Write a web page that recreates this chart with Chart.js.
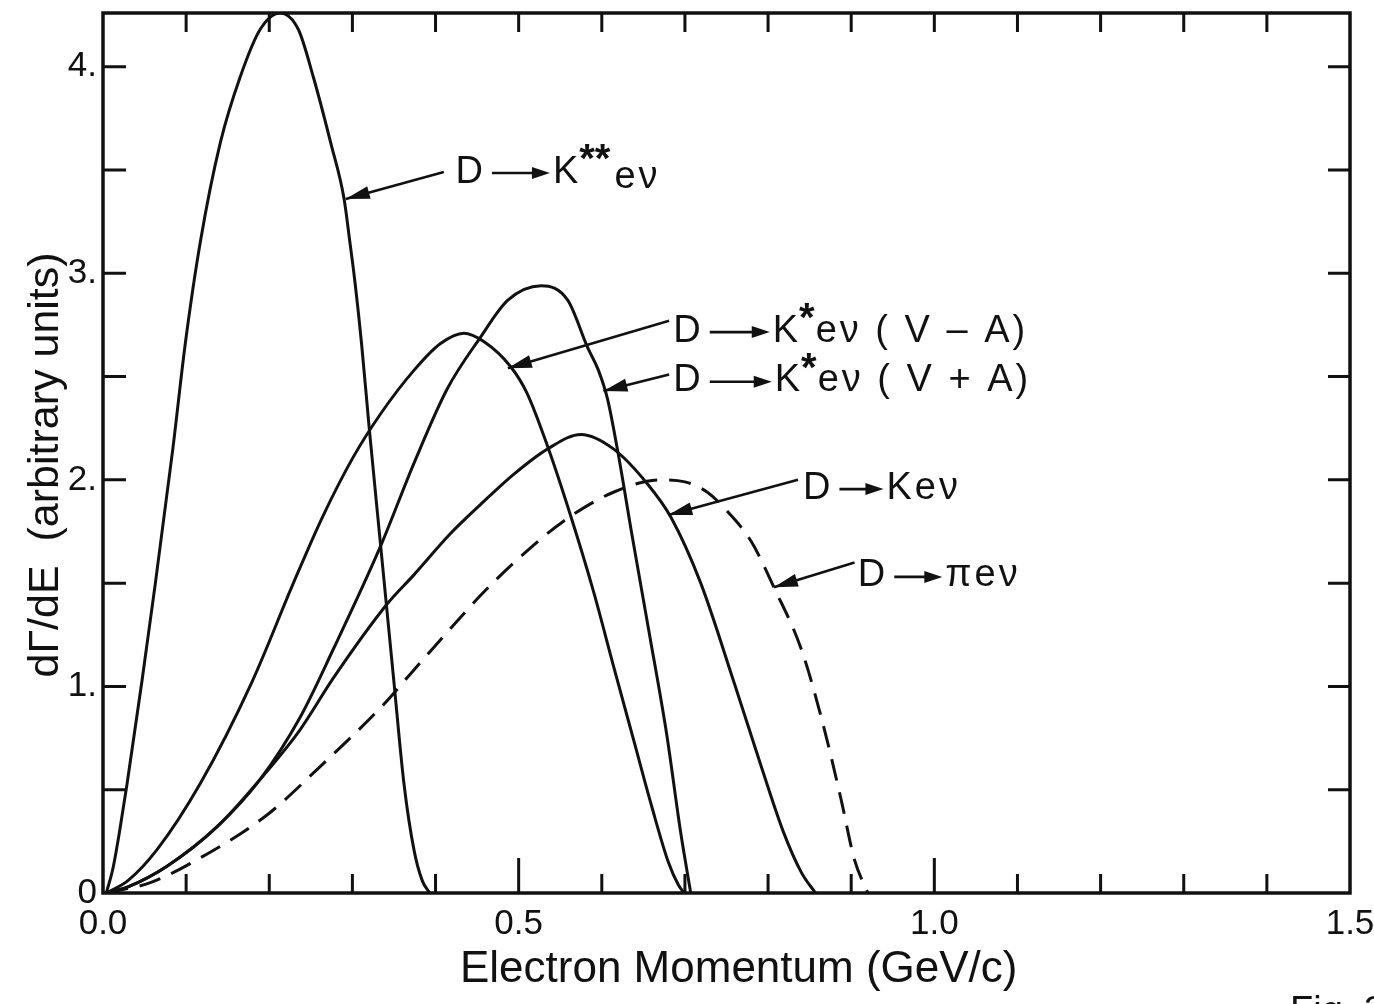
<!DOCTYPE html>
<html><head><meta charset="utf-8">
<script src="https://cdn.jsdelivr.net/npm/chart.js@4/dist/chart.umd.min.js"></script>
<style>html,body{margin:0;padding:0;background:#fff;}#wrap{width:1374px;height:1004px;position:relative;}</style>
</head><body><div id="wrap"><canvas id="c" width="1374" height="1004"></canvas></div>
<script>
// ---- data ----
const kssX = [0.004,0.012,0.020,0.029,0.047,0.063,0.084,0.099,0.117,0.141,0.165,0.189,0.213,0.235,0.253,0.274,0.290,0.297,0.303,0.311,0.320,0.334,0.350,0.362,0.374,0.384,0.393];
const kssY = [0,0.12,0.30,0.53,1.03,1.50,2.15,2.66,3.15,3.63,3.95,4.18,4.26,4.18,3.95,3.63,3.36,3.15,2.96,2.66,2.26,1.68,1.02,0.53,0.21,0.06,0];

const kvaX = [0.004,0.030,0.065,0.117,0.179,0.229,0.264,0.301,0.334,0.374,0.406,0.434,0.458,0.490,0.510,0.535,0.563,0.590,0.614,0.639,0.660,0.680,0.692,0.699];
const kvaY = [0,0.06,0.21,0.53,1.02,1.50,1.82,2.11,2.32,2.53,2.66,2.71,2.67,2.55,2.42,2.16,1.82,1.46,1.10,0.73,0.42,0.15,0.04,0];

const kvpX = [0.004,0.030,0.077,0.137,0.189,0.237,0.277,0.334,0.374,0.414,0.454,0.487,0.527,0.559,0.583,0.596,0.607,0.620,0.636,0.657,0.678,0.695,0.707];
const kvpY = [0,0.03,0.13,0.32,0.55,0.85,1.18,1.68,2.08,2.44,2.69,2.87,2.94,2.87,2.64,2.53,2.39,2.12,1.74,1.26,0.77,0.29,0];

const kevX = [0.004,0.030,0.077,0.137,0.189,0.237,0.277,0.342,0.374,0.418,0.454,0.495,0.535,0.575,0.614,0.655,0.683,0.719,0.759,0.792,0.819,0.840,0.857];
const kevY = [0,0.03,0.13,0.32,0.55,0.79,1.04,1.40,1.54,1.74,1.88,2.03,2.15,2.22,2.15,1.98,1.82,1.50,1.02,0.61,0.29,0.10,0];

const pevX = [0.004,0.057,0.117,0.198,0.258,0.337,0.374,0.418,0.454,0.500,0.554,0.614,0.671,0.700,0.727,0.755,0.780,0.807,0.840,0.864,0.888,0.904,0.920];
const pevY = [0,0.05,0.17,0.38,0.60,0.91,1.08,1.28,1.44,1.62,1.80,1.94,2.00,1.99,1.94,1.83,1.70,1.48,1.18,0.85,0.45,0.16,0];

const xTickValues = [0, 0.5, 1.0, 1.5];
const xTickLabels = ['0.0', '0.5', '1.0', '1.5'];
const yTickValues = [0, 1, 2, 3, 4];
const yTickLabels = ['0', '1.', '2.', '3.', '4.'];

const xTitle = 'Electron Momentum (GeV/c)';
const yTitle = 'd\u0393/dE  (arbitrary units)';

// annotation labels: text parts, arrow tail -> head (data coords), text anchor (data coords)
const annotations = [
  {parts:[['t','D'],['a',58],['t','K'],['s','**'],['b','e\u03BD']], tail:[0.410,3.49], head:[0.292,3.36], at:[0.424,3.49]},
  {parts:[['t','D'],['a',60],['t','K'],['s','*'],['t','e\u03BD ( V \u2013 A)']], tail:[0.681,2.77], head:[0.487,2.54], at:[0.686,2.72]},
  {parts:[['t','D'],['a',62],['t','K'],['s','*'],['t','e\u03BD ( V + A)']], tail:[0.681,2.51], head:[0.602,2.43], at:[0.686,2.48]},
  {parts:[['t','D'],['a',44],['t','Ke\u03BD']], tail:[0.836,2.00], head:[0.680,1.83], at:[0.842,1.96]},
  {parts:[['t','D'],['a',48],['t','\u03C0e\u03BD']], tail:[0.904,1.60], head:[0.807,1.48], at:[0.908,1.535]}
];

function pts(xs, ys){ return xs.map((x,i)=>({x:x, y:ys[i]})); }

const FONT = '"Liberation Sans", Arial, sans-serif';
const INK = '#111';

function arrowHead(ctx, x0, y0, x1, y1, len, half){
  const ang = Math.atan2(y1-y0, x1-x0);
  ctx.beginPath();
  ctx.moveTo(x1, y1);
  ctx.lineTo(x1 - len*Math.cos(ang) + half*Math.sin(ang), y1 - len*Math.sin(ang) - half*Math.cos(ang));
  ctx.lineTo(x1 - len*Math.cos(ang) - half*Math.sin(ang), y1 - len*Math.sin(ang) + half*Math.cos(ang));
  ctx.closePath();
  ctx.fill();
}

const decor = {
  id:'decor',
  afterDatasetsDraw(chart){
    const ctx = chart.ctx, a = chart.chartArea;
    const xs = chart.scales.x, ys = chart.scales.y;
    ctx.save();
    ctx.strokeStyle = INK; ctx.fillStyle = INK;
    // frame
    ctx.lineWidth = 3.5;
    ctx.strokeRect(a.left, a.top, a.right-a.left, a.bottom-a.top);
    // inward ticks
    ctx.lineWidth = 3;
    ctx.beginPath();
    xs.ticks.forEach(t=>{
      const v = t.value;
      if (v <= xs.min + 1e-9 || v >= xs.max - 1e-9) return;
      const p = xs.getPixelForValue(v);
      const major = Math.abs(v*2 - Math.round(v*2)) < 1e-6;
      ctx.moveTo(p, a.bottom); ctx.lineTo(p, a.bottom - (major ? 35 : 19));
      ctx.moveTo(p, a.top); ctx.lineTo(p, a.top + 19);
    });
    ys.ticks.forEach(t=>{
      const v = t.value;
      if (v <= ys.min + 1e-9 || v >= ys.max - 1e-9) return;
      const p = ys.getPixelForValue(v);
      ctx.moveTo(a.left, p); ctx.lineTo(a.left + 23, p);
      ctx.moveTo(a.right, p); ctx.lineTo(a.right - 22, p);
    });
    ctx.stroke();

    // annotations
    ctx.lineWidth = 2.6;
    annotations.forEach(an=>{
      const tx = xs.getPixelForValue(an.tail[0]), ty = ys.getPixelForValue(an.tail[1]);
      const hx = xs.getPixelForValue(an.head[0]), hy = ys.getPixelForValue(an.head[1]);
      ctx.beginPath(); ctx.moveTo(tx, ty); ctx.lineTo(hx, hy); ctx.stroke();
      arrowHead(ctx, tx, ty, hx, hy, 24, 6.5);
      let x = xs.getPixelForValue(an.at[0]);
      const y = ys.getPixelForValue(an.at[1]);
      ctx.textBaseline = 'middle'; ctx.textAlign = 'left';
      an.parts.forEach((p, i)=>{
        if (p[0] === 't' || p[0] === 'b'){
          ctx.font = '38px ' + FONT;
          if ('letterSpacing' in ctx) ctx.letterSpacing = (p[1].length > 1 ? '3px' : '0px');
          const dy = p[0] === 'b' ? 5 : 0;
          ctx.fillText(p[1], x + (p[0]==='b'?3:0), y + dy);
          x += ctx.measureText(p[1]).width + (p[0]==='b'?3:0);
          if ('letterSpacing' in ctx) ctx.letterSpacing = '0px';
        } else if (p[0] === 's'){
          ctx.font = 'bold 40px ' + FONT;
          ctx.fillText(p[1], x + 1, y - 11);
          x += ctx.measureText(p[1]).width + 2;
        } else if (p[0] === 'a'){
          const x0 = x + 9, x1 = x + 9 + p[1];
          ctx.beginPath(); ctx.moveTo(x0, y+1); ctx.lineTo(x1 - 10, y+1); ctx.stroke();
          arrowHead(ctx, x0, y+1, x1, y+1, 18, 6);
          x = x1 + 3;
        }
      });
    });

    // partial caption at the bottom edge
    ctx.font = '38px ' + FONT;
    ctx.textBaseline = 'top';
    ctx.fillText('Fig. 3', 1290, 994);
    ctx.restore();
  }
};

const lineBase = {borderColor: INK, borderWidth: 3, pointRadius: 0, fill: false, cubicInterpolationMode: 'monotone'};

new Chart(document.getElementById('c'), {
  type: 'line',
  data: {
    datasets: [
      Object.assign({label:'D\u2192K**e\u03BD', data: pts(kssX, kssY)}, lineBase),
      Object.assign({label:'D\u2192K*e\u03BD (V\u2212A)', data: pts(kvaX, kvaY)}, lineBase),
      Object.assign({label:'D\u2192K*e\u03BD (V+A)', data: pts(kvpX, kvpY)}, lineBase),
      Object.assign({label:'D\u2192Ke\u03BD', data: pts(kevX, kevY)}, lineBase),
      Object.assign({label:'D\u2192\u03C0e\u03BD', data: pts(pevX, pevY), borderDash:[22,12]}, lineBase)
    ]
  },
  options: {
    responsive: false, animation: false, devicePixelRatio: 1,
    layout: {padding: {top: 13, right: 24, left: 0, bottom: 0}},
    plugins: {legend: {display: false}, tooltip: {enabled: false}},
    scales: {
      x: {
        type: 'linear', min: 0, max: 1.5,
        grid: {display: false, drawTicks: false}, border: {display: false},
        ticks: {
          stepSize: 0.1, autoSkip: false, maxRotation: 0, padding: 10,
          color: INK, font: {family: FONT, size: 35},
          callback: (v)=>{ const i = xTickValues.findIndex(t=>Math.abs(t-v)<1e-6); return i>=0 ? xTickLabels[i] : ''; }
        },
        title: {display: true, text: '  ' + xTitle, color: INK, font: {family: FONT, size: 44}, padding: {top: 0, bottom: 8}},
        afterFit: (s)=>{ s.height = 111; s.paddingLeft = 0; s.paddingRight = 0; }
      },
      y: {
        type: 'linear', min: 0, max: 4.26,
        grid: {display: false, drawTicks: false}, border: {display: false},
        ticks: {
          stepSize: 0.5, autoSkip: false, padding: 6,
          color: INK, font: {family: FONT, size: 35},
          callback: (v)=>{ const i = yTickValues.findIndex(t=>Math.abs(t-v)<1e-6); return i>=0 ? yTickLabels[i] : ''; }
        },
        title: {display: true, text: yTitle + '  ', color: INK, font: {family: FONT, size: 43}, padding: {top: 20, bottom: 0}},
        afterFit: (s)=>{ s.width = 103; s.paddingTop = 0; s.paddingBottom = 0; }
      }
    }
  },
  plugins: [decor]
});
</script>
</body></html>
